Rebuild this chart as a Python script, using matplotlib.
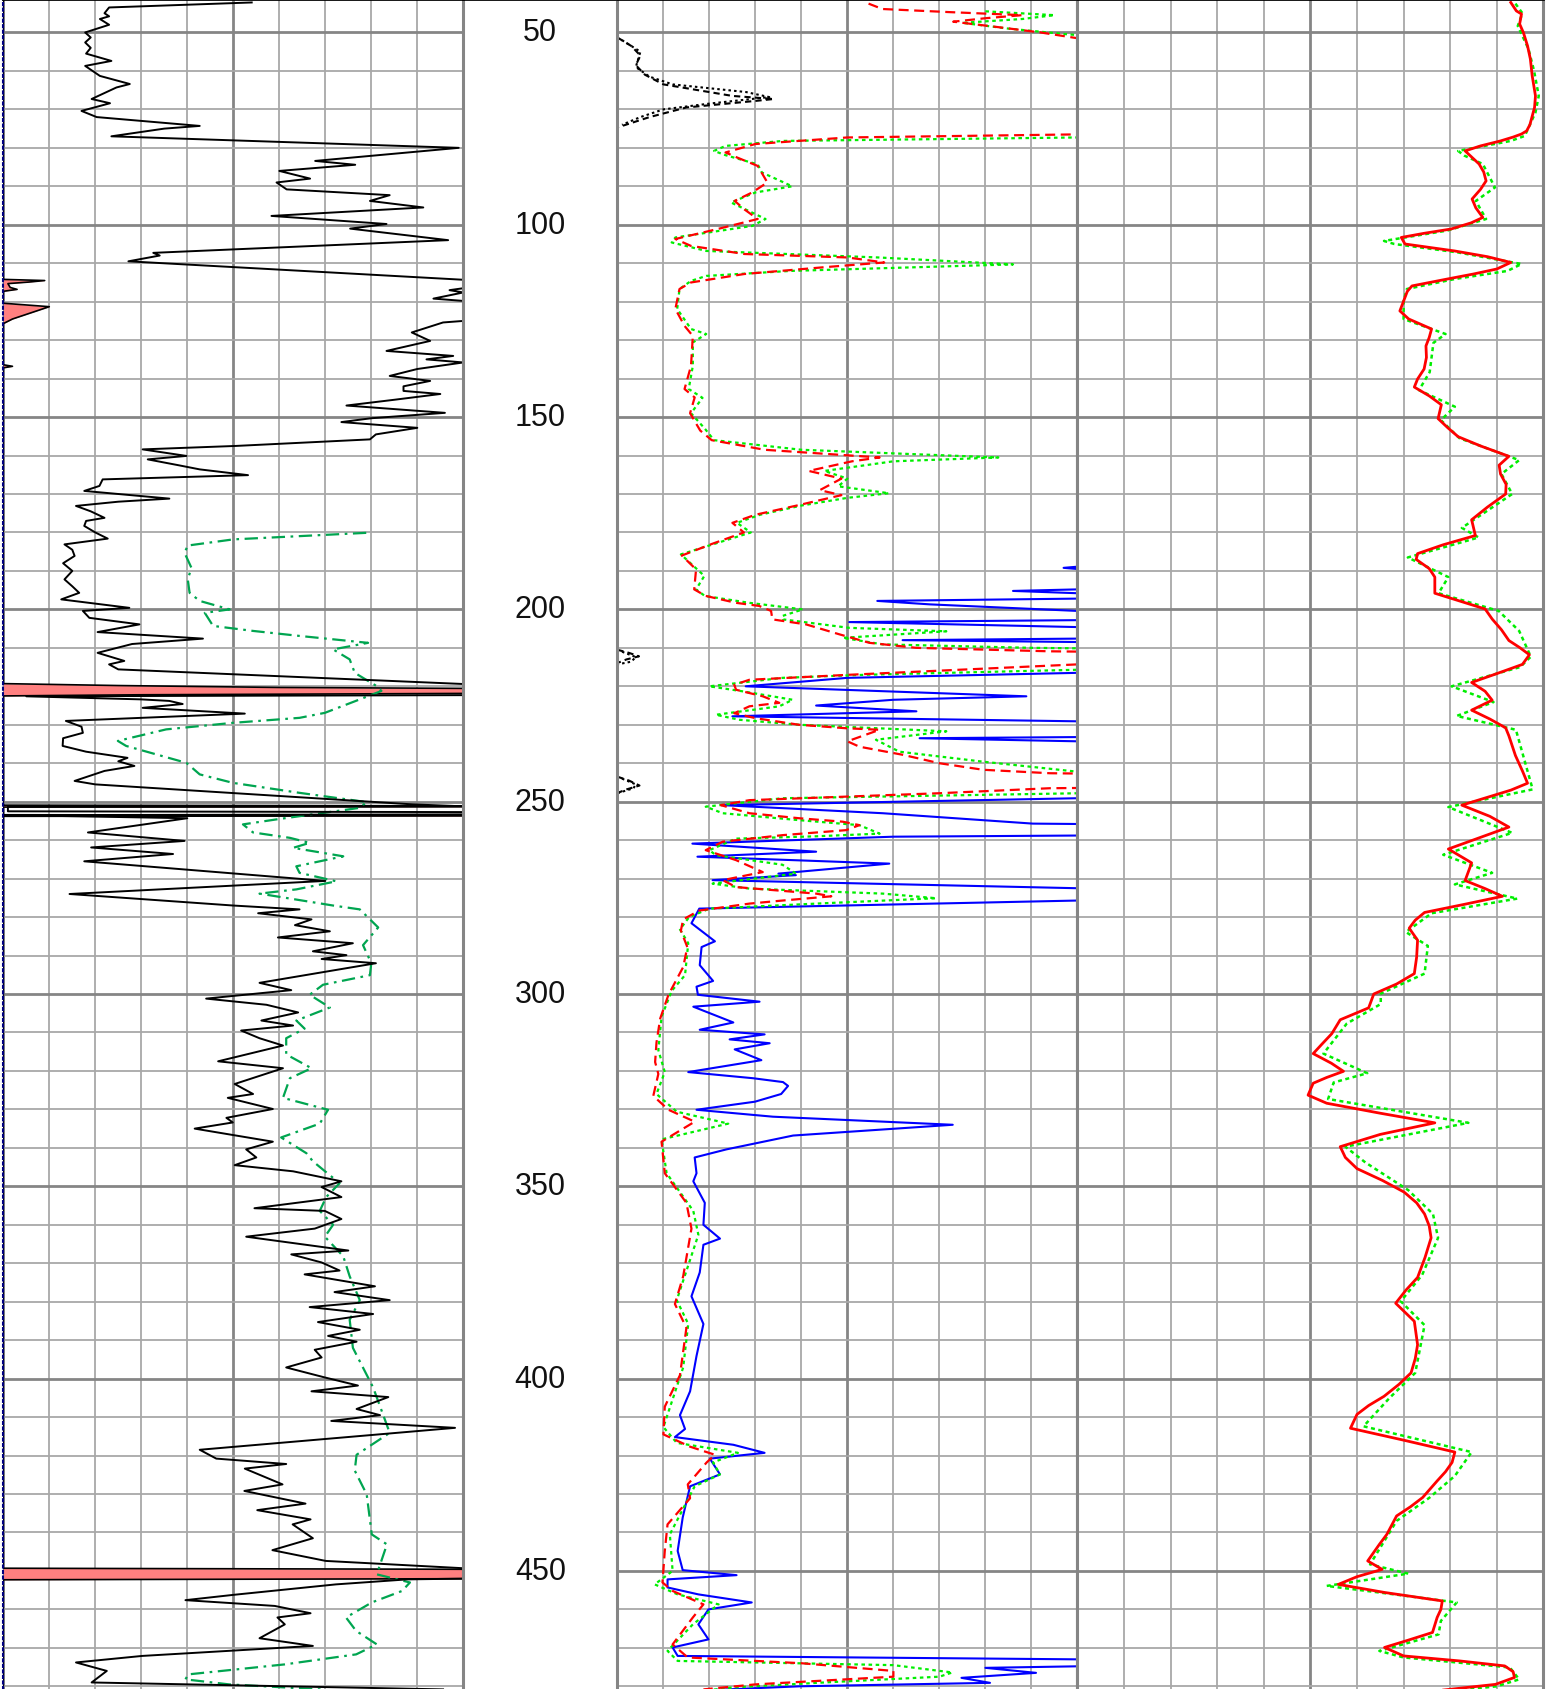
import numpy as np
import matplotlib
matplotlib.use("Agg")
import matplotlib.pyplot as plt
from matplotlib.ticker import MultipleLocator

nan = np.nan

# ---- track 1: gamma ray (black), green dash-dot curve, red filled spikes
gr = [(42.2, 54), (43.5, 23), (45, 22), (45.8, 23), (46.5, 21), (48, 23), (50, 17.8), (51.3, 19), (52.6, 17.8),
      (54, 19), (55.5, 18), (57.4, 23.5), (58.7, 17.8), (61.3, 21), (63.4, 27.5), (64.3, 24.6), (67.3, 19.2),
      (68.4, 23.2), (70.4, 17), (72, 20.3), (74.3, 42.7), (75, 35), (77, 23.5), (80, 99), (83.4, 67.8), (84.4, 76.5),
      (86, 60), (88, 66.7), (89, 59.4), (90.8, 61.6), (92.3, 84), (93.8, 79.7), (95.5, 91.3), (97.7, 58.3),
      (99.8, 83.3), (101, 75.4), (104, 96.7), (107.3, 32.6), (108, 34), (109.5, 27.2), (114.3, 100), (116.5, 100),
      (117, 97), (117.6, 100), (119.2, 93.5), (119.8, 100), (125, 100), (125.4, 95.6), (128, 88.8), (130.2, 92.8),
      (132.8, 83.3), (134.1, 97.8), (135, 92), (135.8, 100), (137.5, 90), (139.3, 84), (140.6, 92.8), (142, 87),
      (143.2, 87), (144, 95), (145.5, 85), (147, 74.6), (148.9, 96), (150.3, 80), (151.3, 73.5), (152.8, 90),
      (154.5, 81), (155.8, 79.7), (157.5, 50.6), (158.4, 30.3), (160.1, 39.8), (161, 31.4), (162.5, 38),
      (163.6, 42.7), (165.1, 53.2), (166.2, 21.6), (167.9, 20.9), (169.2, 17.6), (171.2, 36.1), (172, 25),
      (173.1, 15.8), (174.5, 19), (176.2, 22), (177, 18), (178.3, 17.6), (180, 20), (181.6, 22.7), (183.1, 13.3),
      (184.5, 15), (186.1, 15.5), (188, 13), (190, 15), (192.2, 13.3), (194, 15), (195.7, 16.5), (197.4, 12.6),
      (199.6, 27.4), (200.4, 17.3), (202.2, 18.7), (203.9, 29.6), (205.9, 20.5), (207.6, 43.4), (209, 28),
      (211.3, 20.5), (213.4, 26.3), (214.3, 23), (215.6, 25), (219.4, 100), (222.3, 100), (222.6, 5), (223.4, 30),
      (223.8, 36.1), (224.6, 39), (225.6, 30.3), (227.1, 52.5), (229, 13.6), (230.5, 17), (232.1, 17.3),
      (233.5, 13), (235.5, 12.9), (237, 18), (238.6, 27), (239.5, 25), (240.7, 28.5), (242, 22), (244.6, 15.5),
      (245.5, 20), (250.7, 89), (251.2, 100), (251.3, 1), (252.5, 1), (252.7, 100), (253.3, 100), (253.5, 2),
      (254.3, 40), (256, 30), (258, 18.4), (260.2, 39.4), (261.9, 19.1), (263.6, 36.9), (265.5, 17.6),
      (270.6, 70), (274, 14.4), (277, 50), (278, 64.4), (279, 55.4), (280.6, 67), (282.1, 63.4), (283.7, 71),
      (285.3, 59.7), (286.8, 76), (288.9, 67.3), (289.9, 74.6), (290.9, 69.2), (292, 81), (297.1, 55.7),
      (299, 62.6), (301.2, 44.1), (302.8, 57.2), (304.8, 64.1), (306.9, 56.1), (308.2, 63), (309.5, 51.7),
      (311.5, 55.7), (313.4, 60.8), (317.5, 46.7), (319.3, 60.8), (323.4, 50.3), (326, 54.3), (327, 48.8),
      (329.9, 58.6), (332.2, 48.5), (333.4, 49.9), (335, 41.6), (338.4, 58.6), (340.4, 52.8), (342.5, 55),
      (344.5, 50.3), (346.1, 63), (348.7, 73.5), (350.2, 69.2), (352.8, 73.5), (355.7, 54.6), (356.4, 69.9),
      (358.5, 73.5), (361, 67.7), (363.1, 52.8), (366.7, 75), (367.7, 62.6), (369.8, 69.2), (371.9, 73.1),
      (372.9, 65.5), (376, 80.8), (377.5, 72), (379.6, 84), (381.4, 66.6), (383.2, 80.4), (385.3, 68.4),
      (387.3, 77.5), (388.9, 70.6), (390.4, 76.8), (392.5, 67.7), (394.5, 69.2), (397.1, 61.5), (399.7, 69.9),
      (401.8, 77.1), (403.3, 67), (404.8, 83.7), (407.9, 76.8), (409.5, 81.9), (411, 71.3), (412.8, 98.2),
      (418.5, 42.7), (420.8, 46.3), (422.2, 61.5), (423.4, 52.5), (427.5, 60.7), (429.2, 52.4), (432.5, 65.7),
      (434.2, 55.2), (436.6, 66.8), (437.9, 62.9), (441.5, 67.3), (444.6, 58.5), (447.4, 70.1), (449.3, 100),
      (452, 100), (452.2, 87.8), (453.5, 72.3), (456.2, 50.2), (457.6, 39.6), (459.1, 59), (461, 66.8),
      (462.1, 59.6), (463.9, 61.2), (467.5, 55.7), (469.5, 67.3), (472.1, 30.2), (473.8, 15.8), (476, 22.5),
      (479, 19.2), (480.8, 95.6)]

t1_green = [(180.1, 78.9), (181.8, 50), (183.4, 40.1), (185.3, 39.4), (189.2, 40.9), (192.2, 40.1), (195.7, 40.5),
            (197.8, 42.7), (200, 49.2), (200.9, 43.8), (204.3, 45.6), (205.6, 54.3), (206.9, 64.4), (208.7, 79.3),
            (210.4, 71.7), (213, 75.3), (216.5, 76.4), (219.9, 81.1), (221.2, 82.2), (223.4, 77.5), (226.9, 69.9),
            (228.2, 64.4), (229.5, 49.9), (231.2, 35.4), (234.2, 24.9), (235.5, 26.7), (239.9, 39.8), (242.9, 42.7),
            (245.1, 49.9), (247.7, 64.4), (250.1, 79), (251.6, 77.5), (253.4, 66.6), (254.6, 59.4), (255.9, 52.1),
            (258, 54.3), (259.4, 62.3), (260.7, 66.6), (262, 63), (264.2, 73.9), (266.8, 63.7), (268.5, 64.4),
            (270.7, 72.4), (272.8, 63.7), (273.9, 55.7), (277, 71.7), (278, 77.5), (282.7, 81.5), (287.3, 78.2),
            (292, 80), (295.1, 79.7), (297.6, 69.5), (300.2, 66.6), (303.5, 71), (306.9, 63.7), (309, 65.5),
            (311.5, 61.5), (315.7, 61.5), (319.3, 67), (321.9, 62.3), (327, 60.8), (330.1, 70.6), (333.7, 68.8),
            (337.3, 60.4), (341.4, 65.9), (343.5, 67.3), (349.2, 73.1), (352.8, 70.2), (356.4, 68.8), (360, 71.7),
            (363.1, 69.9), (368.2, 73.9), (373.4, 75.3), (379.6, 77.5), (384.7, 75.3), (392, 76), (402.3, 80.4),
            (409.5, 82.6), (414.1, 84), (419.8, 76.8), (423.9, 76.4), (430.1, 79), (440.5, 80.1), (443.1, 83.4),
            (449.1, 81.7), (450.9, 81.2), (453, 88.4), (455.2, 86.7), (458.2, 80.1), (462.1, 74.5), (465.6, 76.7),
            (469.1, 81.2), (471.7, 76.7), (474.3, 61.2), (476.9, 40.2), (478.2, 39.6), (479.5, 49.1), (480.8, 69)]

t1_fill = [(42, 0), (114.2, 0), (114.5, 9), (114.9, 5.5), (115.3, 1), (116.3, 1.5), (116.8, 3), (117.3, 0),
           (120.4, 0), (121.3, 10), (122.5, 7), (124.5, 2), (125.7, 0), (136.4, 0), (136.8, 2), (137.2, 0),
           (219.3, 0), (219.8, 25), (220.3, 60), (220.6, 110), (221.8, 110), (222.2, 30), (222.5, 0),
           (250.9, 0), (251.1, 110), (251.3, 110), (251.4, 0), (253.4, 0), (253.5, 110), (253.7, 110), (253.8, 0),
           (449.3, 0), (449.6, 110), (452.0, 110), (452.3, 0), (481, 0)]

# ---- track 2: black dashed/dotted, red dashed, green dotted, blue solid
t2_black_a = [(51.3, 0), (53.5, 3), (56, 5), (58.5, 4), (61, 6), (63.5, 10), (66.5, 25), (67.3, 34), (67.8, 30),
              (69.5, 15), (72, 7), (74.7, 0), (nan, nan), (210.5, 0), (211.3, 2.5), (212.2, 4.7), (213, 2),
              (213.8, 0.3), (nan, nan), (243.5, 0), (244.5, 2.5), (245.8, 4.8), (246.8, 2), (247.6, 0.3)]
t2_black_b = [(52, 1), (55, 5), (57, 4.5), (59, 4), (61.5, 7), (63.5, 12), (65.5, 28), (66.8, 33), (68.5, 20),
              (70, 10), (72, 5), (74, 1), (nan, nan), (211, 1), (212.4, 4), (213.6, 3), (214.3, 0), (nan, nan),
              (244, 1), (245.5, 4), (246.5, 3.5), (247.8, 0)]

t2_red = [(42.5, 54.6), (43.9, 57.6), (44.7, 72), (45.5, 88), (46.3, 80), (47.2, 73), (48.5, 82), (50, 92),
          (51.5, 100), (53, 140), (75, 140), (76.5, 100), (77.3, 50), (79, 30), (81.2, 23.5), (82.5, 26),
          (84.7, 30.5), (89, 32.6), (91.6, 29.3), (93.8, 25.5), (96, 27.6), (98.5, 30.5), (101.1, 21.8),
          (103.7, 12.6), (105.5, 16), (107.6, 27.6), (108.5, 50), (109.8, 58), (111.1, 44.3), (112.8, 27.6),
          (115, 16), (116.7, 13.5), (121.9, 12.6), (126.3, 14.6), (128.9, 16.4), (136.7, 16), (142.7, 14.6),
          (144.9, 16.8), (149, 15.8), (153.5, 18), (156, 20.5), (158.5, 32), (160.5, 57), (161.5, 51), (164, 41.6),
          (166, 48.7), (169, 44), (170.3, 48.7), (173, 39), (175.4, 30), (177.5, 25), (180, 27.5), (183, 20.5),
          (186, 14), (189.6, 17.1), (194.8, 16.7), (196.5, 19.2), (198.3, 25.8), (199.1, 30.8), (200.4, 33.4),
          (202.6, 33.7), (203.9, 41), (206.5, 48.3), (208.7, 54.8), (210, 65), (210.9, 94), (211.5, 140),
          (213.8, 140), (214.3, 100), (217, 50.4), (218.3, 28.7), (219.6, 25.4), (220.9, 25.8), (222.6, 31.6),
          (224.3, 35.2), (225.2, 28.7), (227, 25.4), (228.3, 30.1), (230, 39.5), (230.9, 49.7), (231.3, 57),
          (234.3, 50), (235.7, 52.6), (237.8, 62), (240, 70), (241.7, 79.5), (242.6, 94), (243.2, 140), (246, 140),
          (246.5, 94), (247.8, 70), (249.6, 28.7), (250.9, 22.5), (253, 28.7), (254.3, 39.5), (255.2, 49),
          (256.1, 52.6), (257.4, 49.7), (258.7, 35.9), (260.4, 22.9), (262.6, 19.2), (265.2, 25.8), (268.3, 31.6),
          (270.4, 22.9), (272.2, 25.8), (273.9, 43.2), (274.6, 46.5), (275.7, 35.9), (276.5, 28.7), (278.3, 17.8),
          (280.6, 14.3), (283.5, 13.8), (287.8, 15.2), (293, 14.3), (300.2, 11.1), (306.4, 9.3), (312.6, 8.5),
          (317.7, 8.2), (320.8, 8.9), (326.5, 7.8), (330.1, 11.1), (333.2, 16.8), (338.4, 9.6), (346.6, 10.3),
          (354.3, 15), (361, 16.1), (373.4, 14.3), (380.6, 12.5), (386.8, 15), (399.1, 13.6), (407.3, 10.3),
          (414.5, 10), (417.7, 15.8), (419.8, 21.2), (421.8, 19.4), (427.5, 15.3), (431.1, 15.8), (437.9, 10.9),
          (444.8, 10.3), (453, 9.8), (455.2, 12), (458.7, 18.7), (462.1, 16.4), (469.1, 12), (472.5, 15.3),
          (474, 40), (476, 60), (477.5, 60), (478.5, 45), (479.5, 30), (480.8, 18.7)]

t2_green = [(44.5, 80), (45.5, 95), (46.5, 88), (47.5, 75), (49, 85), (50.5, 98), (51.5, 110), (53, 140), (76, 140),
            (77.3, 100), (78.2, 36), (79.5, 23.5), (80.8, 21), (81.9, 23.5), (84.3, 30.5), (86.4, 31.4), (90, 38),
            (91.6, 30), (94.2, 24.7), (98.5, 32.2), (100.3, 29.3), (103.3, 12.6), (104.6, 11.8), (106.8, 19.3),
            (108.5, 56.7), (110.3, 86), (112, 37.6), (113.3, 19.3), (114.6, 16), (116.7, 13.5), (121.9, 13),
            (127.1, 16), (128.4, 19.3), (130.6, 16.4), (136.7, 16.4), (142.7, 15.5), (145, 18.5), (149, 16),
            (153, 19), (156, 21), (158.5, 40), (160.5, 82.8), (161.5, 60), (164, 45), (166, 50), (168, 48),
            (169.8, 59), (171, 50), (173, 40), (175.4, 31), (177.5, 26), (180, 29), (183, 21), (185.7, 13.8),
            (191.3, 18.9), (194.8, 17.1), (196.5, 19), (198.3, 28.7), (200, 40.3), (201.7, 35.9), (202.6, 36),
            (204.8, 50.4), (205.7, 71.5), (207.4, 49), (209.1, 57.7), (210, 90), (210.6, 140), (215, 140),
            (215.7, 100), (217, 54), (217.8, 35.9), (220, 20), (221.3, 27.2), (223.5, 38.1), (225.2, 35.2),
            (227.4, 21.4), (228.7, 26.5), (230, 39.5), (231.7, 71.5), (233.9, 56.2), (237, 61.3), (239.6, 79.5),
            (242.2, 100), (242.8, 140), (247, 140), (247.8, 100), (249.1, 35.9), (251.3, 19.2), (253, 22.9),
            (254.8, 39.5), (256.1, 52.6), (258.3, 57), (259, 43.2), (259.6, 25.8), (262.6, 20), (263.9, 21.4),
            (266.4, 35.9), (268.7, 38.8), (271.3, 20.7), (272.6, 28.7), (273.9, 57.7), (275.1, 69.3),
            (276.5, 43.2), (277.8, 20), (280, 15.6), (283.2, 13.6), (286.8, 15.4), (295.1, 14.7), (299.2, 11.8),
            (305.9, 9.6), (314.6, 8.9), (320.3, 10.3), (326, 8.5), (330.6, 12.9), (333.7, 24.1), (337.8, 9.6),
            (346.6, 10.7), (356.4, 16.5), (362.6, 17.6), (379.6, 12.9), (385.8, 15.4), (397.1, 14.3),
            (412.6, 10), (416.7, 12.9), (419.3, 26.2), (421.8, 20.8), (424.9, 22.3), (428, 16.8), (440.5, 11.4),
            (450, 12), (453.5, 8.1), (456.1, 13.1), (458.7, 22), (463.9, 16.4), (470.8, 10.9), (473.4, 13.1),
            (474.5, 60), (476.4, 72.8), (477.5, 70), (479, 45), (480.3, 25), (481, 20)]

t2_blue = [(188.6, 140), (188.9, 100), (189.2, 97), (189.5, 100), (189.9, 140), (194.5, 140), (194.8, 100),
           (195.2, 86), (195.8, 100), (196.4, 140), (197.2, 100), (197.8, 56.5), (198.7, 68), (200.4, 100),
           (201, 140), (202.8, 100), (203.3, 50.4), (204.6, 100), (205.5, 140), (207.6, 100), (208, 62),
           (208.5, 100), (209, 140), (216, 140), (216.5, 100), (217.8, 50), (220, 27.9), (220.9, 49), (222.6, 88.9),
           (223.5, 60), (225, 43.2), (226.5, 65), (227.8, 25), (229.1, 100), (229.6, 140), (232.8, 140),
           (233.2, 100), (233.5, 65.7), (234.3, 100), (234.8, 140), (248.6, 140), (249.1, 100), (250.9, 22.9),
           (253, 57.7), (255.7, 90.3), (256.2, 140), (258.4, 140), (258.8, 100), (259.1, 60), (260.9, 16.3),
           (263, 43.2), (264.3, 17.4), (266.1, 59.1), (268.7, 35), (269.1, 38.8), (270.4, 20.7), (272.5, 100),
           (273, 140), (275.3, 140), (275.7, 100), (277.8, 17.8), (281.6, 16.1), (286.3, 21.2), (287.8, 18.3),
           (292.5, 17.9), (296.6, 20.8), (298.1, 17.2), (300.2, 17.5), (302, 30.9), (303.3, 16.5), (307.4, 25.2),
           (309.3, 17.9), (310.5, 32), (311.8, 24.4), (312.8, 33.1), (314.4, 25.5), (317.2, 31.3), (320.3, 15.4),
           (321.9, 29.5), (322.9, 36), (323.9, 37.1), (326, 35.6), (328, 29.9), (330.1, 17.2), (331.9, 33.8),
           (334, 72.9), (336.8, 38.2), (340.4, 23.7), (342.5, 16.8), (346.6, 17.2), (348.7, 16.5), (354.3, 19),
           (360, 18.7), (363.6, 22.3), (365.2, 18.7), (372.4, 17.9), (378.6, 16.1), (385.8, 18.7), (394.1, 17.2),
           (403.3, 15.8), (409.5, 13.6), (413.1, 14.7), (415.2, 12.5), (417.2, 25.2), (419.3, 32), (420.8, 20.1),
           (424.9, 22.3), (428, 15.8), (436.1, 14.2), (444.8, 13.1), (449.8, 14.2), (451.1, 25.9), (452.2, 10.9),
           (454.3, 10.9), (456.1, 17.6), (458.2, 29.2), (460, 19.8), (463.9, 17.6), (467.8, 19.8), (469.9, 12),
           (472.1, 13.1), (473, 100), (473.4, 140), (474.5, 140), (474.8, 100), (475.2, 80), (476.5, 91),
           (477.8, 74.8), (479.1, 81), (480, 39.6), (481, 20)]

# ---- track 3: red solid and green dotted
t3_red = [(42.2, 93), (44.4, 94.2), (45.2, 95.3), (47.8, 94.9), (50, 95.7), (53.5, 96.6), (56.9, 97.2), (61.3, 97.6),
          (66.5, 98.3), (69.5, 98.1), (71.7, 97.6), (74, 97.1), (75.6, 96.4), (76.4, 95.3), (77.2, 93.5), (78.2, 90.8),
          (79.5, 86.5), (80.8, 83.2), (82.5, 84.7), (84.2, 86.2), (86.3, 87.2), (88.6, 87.7), (90.8, 86.5),
          (93.3, 84.7), (95.6, 85.5), (98.1, 87), (99.5, 84.5), (101.1, 80.2), (102.2, 74.5), (103.3, 69.5),
          (105, 70.3), (106.8, 80.9), (108.3, 88), (109.8, 93), (111.5, 90), (112.8, 85), (114.1, 79.4),
          (115.9, 71.8), (117.3, 70.8), (118.9, 70.3), (122.4, 69.2), (124.5, 71.1), (127.1, 76), (129.3, 75.5),
          (131.5, 74.8), (134.5, 74.9), (137.5, 74.4), (140.1, 73), (142.2, 72.3), (144.5, 75.5), (146.8, 78.1),
          (150.4, 77.4), (152.8, 79.5), (155.1, 81.7), (157.5, 86.5), (160.2, 92.6), (162.5, 90.5), (164.8, 90.8),
          (167.5, 92), (170, 91.9), (173.4, 88), (176.7, 84.6), (180.8, 85.4), (183.2, 78.5), (185.5, 73),
          (187, 72.7), (189.4, 75.5), (191.6, 76.7), (195.8, 76.7), (198, 82.5), (199.9, 87.5), (202.5, 89),
          (205.3, 91), (208.1, 92.6), (210, 95), (211.8, 97), (214.3, 95.5), (216.7, 90), (219, 84.6),
          (221.3, 87.5), (223.6, 89), (226.2, 84.6), (228.5, 88.5), (230.8, 91.9), (232.9, 92.6), (238, 94),
          (242, 95.5), (245.2, 96.6), (247, 93), (250.9, 82.5), (253.8, 88.5), (256.6, 92.6), (259.5, 86),
          (262.3, 79.6), (265.9, 84.6), (270.5, 83.2), (272.6, 87.5), (274.6, 91.2), (276.7, 83), (278.8, 74.5),
          (280.8, 72.5), (282.9, 71.2), (286, 73), (290.4, 72.8), (294.7, 72.3), (297.4, 68.5), (300, 63.6),
          (303.6, 62.5), (306.7, 56.4), (310.3, 54.6), (313, 52.5), (315.5, 50.6), (318, 54.5), (320.1, 57.1),
          (321.7, 53.5), (323.2, 50.6), (326.3, 49.5), (328.4, 53.5), (331, 65), (333.5, 76.7), (336.5, 65),
          (339.7, 56.4), (342.5, 57.5), (345.4, 60), (348.5, 65.5), (351.5, 70.1), (354.3, 72.8), (357.2, 74.5),
          (360.3, 75.5), (363.4, 75.9), (368.5, 74.6), (373.7, 73), (377, 70.5), (380.4, 68.3), (385.1, 72.3),
          (391.2, 73), (394.8, 72.5), (398.5, 71.6), (401.5, 69), (404.6, 65.8), (407, 62.5), (409.3, 60),
          (412.9, 58.6), (416, 70), (419.1, 81), (421.8, 80.4), (424.2, 79), (426.6, 77.2), (430.9, 74.1),
          (433.3, 71.5), (435.7, 68.5), (440.5, 66.4), (443.1, 64.8), (445.7, 63.3), (447.4, 62.3), (449.6, 65.4),
          (451.5, 60), (453.5, 56), (455.6, 65.9), (457.8, 78.3), (460, 78), (462.1, 77.2), (466, 76.2),
          (468, 71), (469.9, 65.9), (472.1, 70), (473.4, 82), (474.7, 91.7), (476.2, 93.5), (477.7, 93.8),
          (479.5, 89.7), (481, 78.3)]

t3_green = [(42.5, 94), (45, 95.5), (48.3, 94.5), (54.3, 96.8), (60, 98), (66.5, 99), (70.8, 98.3), (76.9, 96),
            (78.2, 93), (80.8, 81.7), (82, 83), (84.2, 87), (90.3, 89.6), (93.8, 85.5), (98.5, 87.7),
            (101.5, 79.4), (104.2, 65.8), (105, 68), (107.2, 81.7), (110.2, 95.3), (112, 92.3), (114.1, 81),
            (116.7, 70.7), (119.8, 70), (124.5, 70), (128.4, 79), (130.7, 76.4), (138.3, 75.6), (143, 73.3),
            (147.3, 81), (150.8, 78), (155.5, 82), (161.2, 94.8), (164.8, 91), (170, 93.3), (178.8, 82.5),
            (181.3, 86.1), (186.5, 70.9), (191.6, 79.6), (195.8, 77.5), (200.4, 90.4), (205.6, 94.8),
            (212.3, 97.3), (215, 95), (220, 80.3), (224.1, 89.3), (227.7, 81.4), (231.3, 94.1), (246.8, 97.7),
            (251.4, 79.6), (258.1, 93.3), (263.8, 78.5), (268.5, 89), (271.5, 81), (275.2, 94.4), (279, 76),
            (283.9, 70.5), (287.5, 75.2), (294.7, 74.5), (299.9, 65.1), (302.6, 65.1), (307.7, 57.8),
            (315.5, 52.8), (320.6, 62.2), (323, 55), (327.3, 53.8), (333.5, 83.9), (339.7, 57.5), (343.8, 61.8),
            (351, 71), (357.2, 76.3), (363.4, 77.4), (373, 74), (379.9, 69.4), (386.1, 74.5), (398.5, 72.5),
            (405, 67), (412.4, 61.4), (419.1, 84.6), (425.3, 81), (431, 75.5), (437, 68.5), (448.3, 62.8),
            (450.7, 71), (453.9, 53.5), (456.1, 68), (458.2, 81.4), (463, 78), (466.5, 77.5), (470.8, 64.8),
            (472.5, 70), (475.1, 92.8), (478.2, 94.8), (480, 90), (481, 82)]

depth_labels = [50, 100, 150, 200, 250, 300, 350, 400, 450]

TOP, BOTTOM = 41.3, 480.7
W, H = 1546, 1690


def xy(pairs):
    a = np.array(pairs, dtype=float)
    return a[:, 1], a[:, 0]


def style_track(ax):
    ax.set_xlim(0, 100)
    ax.set_ylim(BOTTOM, TOP)
    ax.xaxis.set_major_locator(MultipleLocator(50))
    ax.xaxis.set_minor_locator(MultipleLocator(10))
    ax.yaxis.set_major_locator(MultipleLocator(50))
    ax.yaxis.set_minor_locator(MultipleLocator(10))
    ax.grid(which="minor", color="#a8a8a8", lw=1.3)
    ax.grid(which="major", color="#858585", lw=2.0)
    ax.set_axisbelow(True)
    ax.tick_params(which="both", length=0, labelleft=False, labelbottom=False)
    for s in ("left", "right"):
        ax.spines[s].set_color("#858585")
        ax.spines[s].set_linewidth(2.2)
    ax.spines["bottom"].set_visible(False)
    ax.spines["top"].set_color("black")
    ax.spines["top"].set_linewidth(2)


fig = plt.figure(figsize=(W / 100, H / 100), dpi=100)

ax1 = fig.add_axes([3.3 / W, 0, 460 / W, 1])
axd = fig.add_axes([463.3 / W, 0, 154 / W, 1])
ax2 = fig.add_axes([617.4 / W, 0, 460 / W, 1])
ax3 = fig.add_axes([1077.4 / W, 0, 466 / W, 1])

for ax in (ax1, ax2, ax3):
    style_track(ax)

ax1.spines["left"].set_color("#000080")
ax1.spines["left"].set_linestyle(":")
ax1.spines["left"].set_linewidth(1.5)

# track 1
fx, fy = xy(t1_fill)
ax1.fill_betweenx(fy, 0, fx, color="#ff8080", lw=0)
ax1.plot(fx, fy, color="black", lw=1.2)
x, y = xy(t1_green)
ax1.plot(x, y, color="#00a550", lw=1.6, dashes=(6, 2.5, 1.2, 2.5))
x, y = xy(gr)
ax1.plot(x, y, color="black", lw=1.4)

# track 2
x, y = xy(t2_black_a)
ax2.plot(x, y, color="black", lw=1.5, dashes=(3, 2))
x, y = xy(t2_black_b)
ax2.plot(x, y, color="black", lw=1.5, dashes=(1.2, 1.5))
x, y = xy(t2_blue)
ax2.plot(x, y, color="#0000ff", lw=1.5)
x, y = xy(t2_green)
ax2.plot(x, y, color="#00ee00", lw=1.6, dashes=(1.6, 1.6))
x, y = xy(t2_red)
ax2.plot(x, y, color="#ff0000", lw=1.6, dashes=(4.5, 2.5))

# track 3
x, y = xy(t3_green)
ax3.plot(x, y, color="#00ee00", lw=1.8, dashes=(1.6, 1.4))
x, y = xy(t3_red)
ax3.plot(x, y, color="#ff0000", lw=2.0)

# depth track
axd.set_xlim(0, 1)
axd.set_ylim(BOTTOM, TOP)
axd.set_xticks([])
axd.set_yticks([])
for s in ("left", "right", "bottom"):
    axd.spines[s].set_visible(False)
axd.spines["top"].set_color("black")
axd.spines["top"].set_linewidth(2)
axd.patch.set_alpha(0)
for d in depth_labels:
    axd.text(0.5, d, str(d), ha="center", va="center", fontsize=22,
             family=["Liberation Sans Narrow", "Liberation Sans", "DejaVu Sans"], color="#111111")

fig.savefig("out.png", dpi=100)
